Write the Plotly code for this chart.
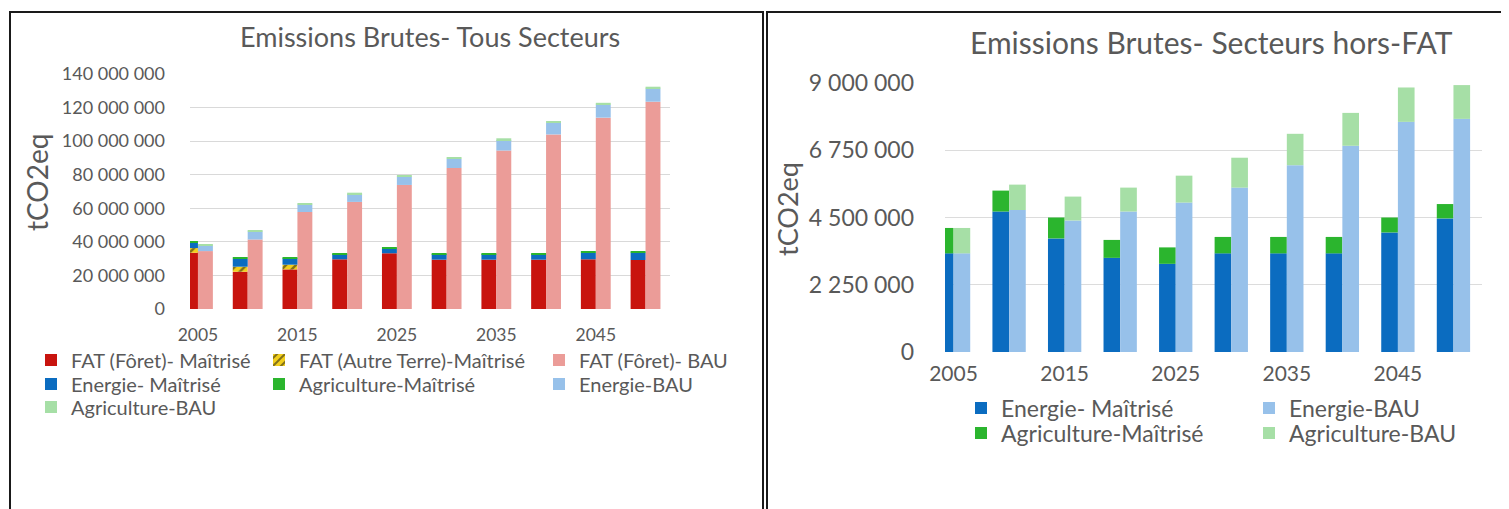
import numpy as np
import plotly.graph_objects as go

# ---------------- data ----------------
years = [2005, 2010, 2015, 2020, 2025, 2030, 2035, 2040, 2045, 2050]
tick_years = [2005, 2015, 2025, 2035, 2045]

# Right chart (hors-FAT), tCO2eq
energie_maitrise = [3300000, 4700000, 3800000, 3150000, 2950000, 3300000, 3300000, 3300000, 4000000, 4470000]
agri_maitrise = [850000, 700000, 700000, 600000, 550000, 550000, 550000, 550000, 500000, 480000]
energie_bau = [3300000, 4750000, 4400000, 4700000, 5000000, 5500000, 6250000, 6900000, 7700000, 7800000]
agri_bau = [850000, 850000, 800000, 800000, 900000, 1000000, 1050000, 1100000, 1150000, 1130000]

# Left chart (tous secteurs), tCO2eq
fat_foret_maitrise = [33500000, 22200000, 23600000, 29600000, 33200000, 29400000, 29400000, 29400000, 29600000, 29200000]
fat_autre_maitrise = [2800000, 3000000, 2800000, 0, 0, 0, 0, 0, 0, 0]
fat_foret_bau = [34500000, 41400000, 57800000, 63800000, 73900000, 84000000, 94400000, 104000000, 114000000, 123500000]

left_y_ticks = [0, 20000000, 40000000, 60000000, 80000000, 100000000, 120000000, 140000000]
right_y_ticks = [0, 2250000, 4500000, 6750000, 9000000]

# ---------------- styling ----------------
OFF = 8            # page body margin of the browser
W, H = 1501, 501   # figure size (fills the 1509x509 window after the body margin)
FONT = "Lato"
GREY = "#595959"
BAR_W = 1.5


def fx(p):
    return (p - OFF) / W


def fy(p):
    return 1 - (p - OFF) / H


C = {
    "fat_m": "#c8140e",
    "fat_a": "#f2cf1d",
    "fat_b": "#eb9c98",
    "en_m": "#0b6cc0",
    "ag_m": "#2bb52e",
    "en_b": "#97c1ea",
    "ag_b": "#a6dfa6",
}

fig = go.Figure()


def stack(series_list):
    """Return bases for stacked series."""
    arr = np.array(series_list, dtype=float)
    return np.vstack([np.zeros(arr.shape[1]), np.cumsum(arr, axis=0)[:-1]])


left_m = [fat_foret_maitrise, fat_autre_maitrise, energie_maitrise, agri_maitrise]
left_b = [fat_foret_bau, energie_bau, agri_bau]
bm = stack(left_m)
bb = stack(left_b)

traces = [
    ("FAT (Fôret)- Maîtrisé", fat_foret_maitrise, bm[0], -BAR_W / 2, C["fat_m"], None, "x", "y", "legend"),
    ("FAT (Autre Terre)-Maîtrisé", fat_autre_maitrise, bm[1], -BAR_W / 2, C["fat_a"], "/", "x", "y", "legend2"),
    ("FAT (Fôret)- BAU", fat_foret_bau, bb[0], BAR_W / 2, C["fat_b"], None, "x", "y", "legend3"),
    ("Energie- Maîtrisé", energie_maitrise, bm[2], -BAR_W / 2, C["en_m"], None, "x", "y", "legend4"),
    ("Agriculture-Maîtrisé", agri_maitrise, bm[3], -BAR_W / 2, C["ag_m"], None, "x", "y", "legend5"),
    ("Energie-BAU", energie_bau, bb[1], BAR_W / 2, C["en_b"], None, "x", "y", "legend6"),
    ("Agriculture-BAU", agri_bau, bb[2], BAR_W / 2, C["ag_b"], None, "x", "y", "legend7"),
]

rm = stack([energie_maitrise, agri_maitrise])
rb = stack([energie_bau, agri_bau])
traces += [
    ("Energie- Maîtrisé", energie_maitrise, rm[0], -BAR_W / 2, C["en_m"], None, "x2", "y2", "legend8"),
    ("Agriculture-Maîtrisé", agri_maitrise, rm[1], -BAR_W / 2, C["ag_m"], None, "x2", "y2", "legend9"),
    ("Energie-BAU", energie_bau, rb[0], BAR_W / 2, C["en_b"], None, "x2", "y2", "legend10"),
    ("Agriculture-BAU", agri_bau, rb[1], BAR_W / 2, C["ag_b"], None, "x2", "y2", "legend11"),
]

for name, vals, base, off, col, pat, xa, ya, lg in traces:
    marker = dict(color=col, line=dict(width=0))
    if pat:
        marker["pattern"] = dict(shape=pat, fgcolor="#111111", bgcolor=col, size=7, solidity=0.35)
    fig.add_trace(go.Bar(
        x=years, y=vals, base=base, name=name,
        offset=off - BAR_W / 2, width=BAR_W,
        marker=marker, xaxis=xa, yaxis=ya, legend=lg,
    ))

# legend positions: swatch centre x px, row centre y px, font size
legend_pos = {
    "legend": (51, 360, 20), "legend2": (279, 360, 20), "legend3": (559, 360, 20),
    "legend4": (51, 384, 20), "legend5": (279, 384, 20), "legend6": (559, 384, 20),
    "legend7": (51, 407, 20),
    "legend8": (981, 408, 23), "legend9": (981, 433, 23),
    "legend10": (1269, 408, 23), "legend11": (1269, 433, 23),
}
legend_layout = {}
for lg, (sx, sy, fs) in legend_pos.items():
    legend_layout[lg] = dict(
        x=fx(sx - 20), y=fy(sy), xanchor="left", yanchor="middle",
        orientation="v", bgcolor="rgba(0,0,0,0)", borderwidth=0,
        font=dict(family=FONT, size=fs, color=GREY),
    )

axis_common = dict(showline=False, zeroline=False, ticks="", fixedrange=True)

fig.update_layout(
    width=W, height=H, autosize=False,
    margin=dict(l=0, r=0, t=0, b=0),
    paper_bgcolor="white", plot_bgcolor="white",
    barmode="overlay",
    separators=". ",
    font=dict(family=FONT, color=GREY),
    showlegend=True,
    xaxis=dict(domain=[fx(190), fx(670)], range=[2004.2, 2052.46], tickvals=tick_years,
               showgrid=False, tickfont=dict(size=17.5, color=GREY), ticklabelstandoff=13,
               anchor="y", automargin=False, **axis_common),
    yaxis=dict(domain=[fy(309), fy(74)], range=[0, 140000000], tickvals=left_y_ticks,
               tickformat=",d", showgrid=True, gridcolor="#d9d9d9", gridwidth=1,
               tickfont=dict(size=18, color=GREY), ticklabelstandoff=24,
               anchor="x", automargin=False, **axis_common),
    xaxis2=dict(domain=[fx(945), fx(1482)], range=[2004.23, 2052.57], tickvals=tick_years,
                showgrid=False, tickfont=dict(size=21, color=GREY), ticklabelstandoff=7,
                anchor="y2", automargin=False, **axis_common),
    yaxis2=dict(domain=[fy(352), fy(83)], range=[0, 9000000], tickvals=right_y_ticks,
                tickformat=",d", showgrid=True, gridcolor="#dcdcdc", gridwidth=1,
                tickfont=dict(size=23, color=GREY), ticklabelstandoff=30,
                anchor="x2", automargin=False, **axis_common),
    **legend_layout,
)

# titles and axis titles
ann = dict(xref="paper", yref="paper", showarrow=False, xanchor="center", yanchor="middle")
fig.add_annotation(text="Emissions Brutes- Tous Secteurs", x=fx(430), y=fy(37),
                   font=dict(family=FONT, size=27, color=GREY), **ann)
fig.add_annotation(text="Emissions Brutes- Secteurs hors-FAT", x=fx(1211), y=fy(42),
                   font=dict(family=FONT, size=30, color=GREY), **ann)
fig.add_annotation(text="tCO2eq", x=fx(37), y=fy(183), textangle=-90,
                   font=dict(family=FONT, size=28, color=GREY), **ann)
fig.add_annotation(text="tCO2eq", x=fx(788), y=fy(209), textangle=-90,
                   font=dict(family=FONT, size=27, color=GREY), **ann)

# panel borders
for x0, x1 in [(10, 763), (767, 1506)]:
    fig.add_shape(type="rect", xref="paper", yref="paper",
                  x0=fx(x0), x1=fx(x1), y0=-0.05, y1=fy(12),
                  line=dict(color="#1a1a1a", width=2), fillcolor="rgba(0,0,0,0)", layer="below")

fig.write_html("out.html")
